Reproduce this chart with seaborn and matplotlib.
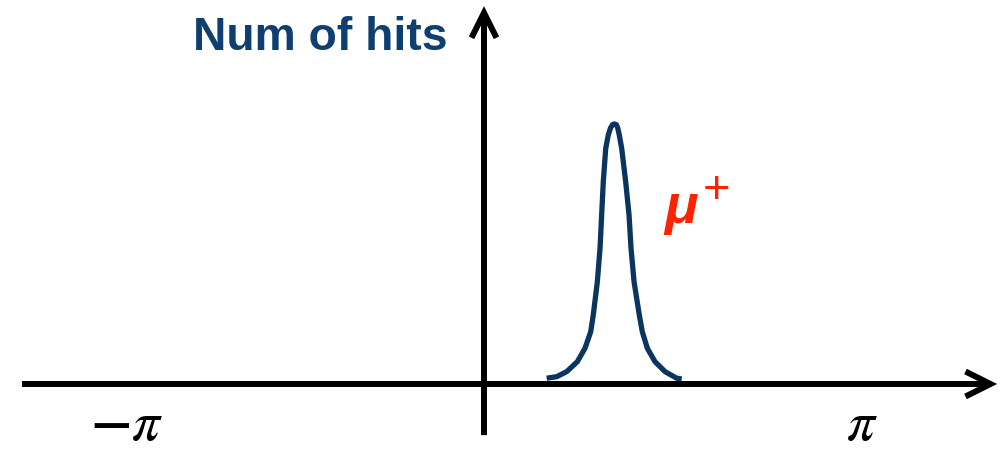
import numpy as np
import pandas as pd
import matplotlib
matplotlib.use("Agg")
import matplotlib.pyplot as plt
import seaborn as sns

# Azimuthal angle (rad) and hit counts of the mu+ peak
phi = [0.538, 0.624, 0.710, 0.801, 0.867, 0.916, 0.938, 0.973, 0.996, 1.010,
       1.024, 1.045, 1.067, 1.086, 1.103, 1.120, 1.137, 1.148, 1.161, 1.182,
       1.216, 1.245, 1.262, 1.288, 1.333, 1.359, 1.402, 1.468, 1.554, 1.654,
       1.697]
hits = [0.7, 1.3, 3.3, 7.2, 12.5, 19.0, 25.6, 38.7, 51.9, 65.0,
        78.1, 91.2, 96.5, 99.2, 100.5, 100.8, 100.5, 99.2, 96.5, 91.2,
        78.1, 65.0, 51.9, 38.7, 25.6, 19.0, 12.5, 7.2, 3.3, 0.7,
        0.4]

tick_pos = [-np.pi, np.pi]
tick_labels = [r"$\mathbf{-}\pi$", r"$\pi$"]
ylabel = "Num of hits"
particle = "\u03bc"
charge = "+"

sns.set_theme(style="white")
plt.rcParams["mathtext.fontset"] = "stix"

fig = plt.figure(figsize=(10.02, 4.53), dpi=100)
ax = fig.add_axes([0, 0, 1, 1])
ax.set_xlim(-4.1545, 4.4464)
ax.set_ylim(-28.74, 149.6)
ax.axis("off")

df = pd.DataFrame({"phi": phi, "hits": hits})
sns.lineplot(data=df, x="phi", y="hits", ax=ax, color="#0b355f", lw=3.8,
             sort=False, estimator=None)
for ln in ax.lines:
    ln.set_solid_joinstyle("round")
    ln.set_solid_capstyle("butt")

arrow = dict(arrowstyle="->,head_length=0.9,head_width=0.45", color="black",
             lw=4.3, mutation_scale=20, shrinkA=0, shrinkB=0,
             joinstyle="miter", capstyle="butt")
# horizontal (phi) axis
ax.annotate("", xy=(4.405, -1.57), xytext=(-3.966, -1.57), arrowprops=arrow)
# vertical (hits) axis
ax.annotate("", xy=(0, 147.2), xytext=(0, -21.7), arrowprops=arrow)

ax.text(-2.498, 129.9, ylabel, ha="left", va="baseline", fontsize=33.3,
        fontweight="bold", color="#0f3e70", family="Liberation Sans")

# end labels of the phi axis, sitting on the bottom edge
for p, lab, off in zip(tick_pos, tick_labels, [6.5, 8.3]):
    ax.annotate(lab, xy=(p, 0), xycoords=("data", "figure fraction"),
                xytext=(off, 1), textcoords="offset points",
                ha="center", va="bottom", fontsize=40, color="black")

ax.text(1.545, 61.8, particle, ha="left", va="baseline", fontsize=40,
        fontweight="bold", fontstyle="italic", color="#ff2200",
        family="Liberation Sans")
ax.text(1.88, 69.5, charge, ha="left", va="baseline", fontsize=34,
        color="#ff2200", family="Liberation Sans")

fig.savefig("out.png", dpi=100)
